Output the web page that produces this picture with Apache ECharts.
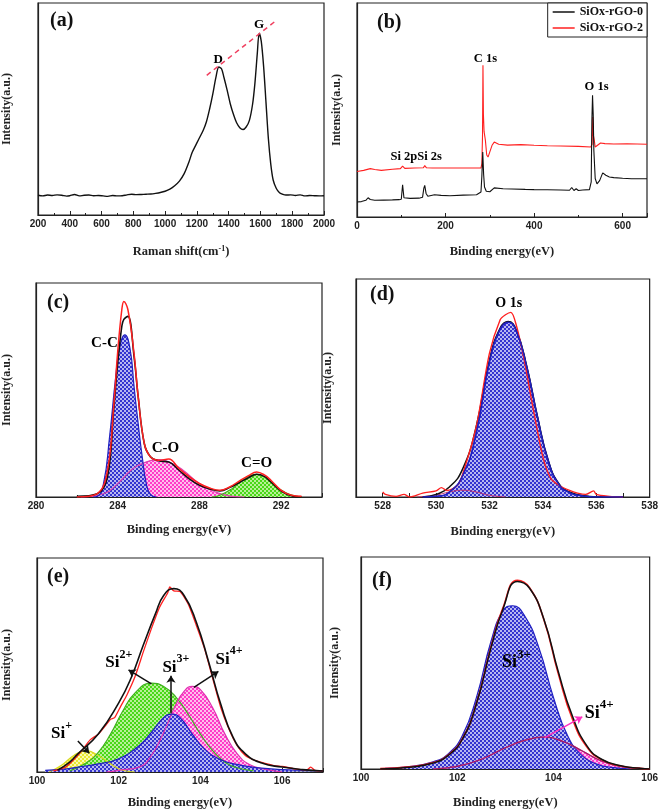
<!DOCTYPE html>
<html><head><meta charset="utf-8">
<script src="https://cdn.jsdelivr.net/npm/echarts@6/dist/echarts.min.js"></script>
<style>html,body{margin:0;padding:0;background:#fff}#c{width:661px;height:810px}</style>
</head><body><div id="c"></div>
<script>
// ---------- DATA ----------
// (a) Raman
const ramanX = [200,230,260,290,320,350,380,400,430,460,490,520,550,580,610,640,670,700,730,760,790,820,850,880,910,940,970,1000,1030,1060,1090,1120,1150,1170,1190,1210,1240,1260,1280,1300,1320,1338,1355,1370,1390,1410,1430,1450,1470,1490,1510,1530,1550,1565,1580,1592,1605,1620,1635,1650,1665,1680,1700,1720,1740,1760,1790,1820,1850,1880,1910,1940,1970,2000];
const ramanY = [9.3,9.0,9.4,9.2,9.5,9.3,8.9,9.1,9.7,9.0,9.3,9.4,9.1,9.2,9.0,8.8,9.2,9.0,9.1,9.5,9.8,9.6,9.7,9.8,9.9,10.2,10.6,11.2,12.2,13.8,16.0,19.5,25,29.5,32.5,35.5,40,44,50,57,65,69.8,69,65,59,52.5,47.5,43.5,41.2,40.3,41.5,44.5,52,62,76,85.8,82,70,53,36,24,16.5,12.5,10.5,9.8,9.4,9.5,9.2,9.5,9.0,9.2,9.1,9.0,9.1];
const ramanDG = [[1262,65.9],[1690,91.2]];

// (b) survey
const surveyX0 = [0,10,20,25,30,40,60,80,95,100,103,106,110,120,140,148,151,153,156,160,175,190,210,240,270,280,282,284,286,288,292,296,300,310,330,350,380,400,430,460,480,485,487,490,492,495,497,500,510,525,529,530.5,532,533.5,535,538,542,548,555,562,570,580,600,620,655];
const surveyY0 = [7,7.2,7.8,9,8.2,7.8,7.9,8.0,8.1,8.3,15.1,9.0,8.6,8.7,8.8,9.2,13.5,14.8,11,9.7,10.4,10.1,9.9,10.2,10.4,11.7,19,30.4,20,14,12,11.2,11.8,13.6,13.2,13.1,12.9,12.8,12.7,12.6,12.5,13.8,14,12.4,12.6,13.2,13.6,12.4,12.6,12.8,16.4,45,56.9,48,31,18,15.5,17,20.6,19.5,18.7,18.4,18.1,17.9,17.9];
const surveyX2 = [0,15,30,40,55,80,98,103,108,130,150,153,157,170,200,250,280,282,283.5,284.5,285.5,287,290,293,296,300,305,310,320,340,370,400,430,460,500,528,530,531,532.5,534,536,538,542,550,560,580,610,655];
const surveyY2 = [21.3,21.8,22.6,22.2,21.8,22.3,22.6,23.8,22.7,22.9,23.0,24.0,23.0,22.9,22.9,22.9,22.9,25,38,70.9,48,40,35.8,29,28,30.4,33.5,35,34,33.6,33.8,33.5,33.3,33.2,33,32.7,33,34,46.7,38,35.8,32.7,33,34.6,34.3,34.1,34.2,34];

// (c) C 1s
const c1sX = [282,283,283.5,283.8,284,284.2,284.3,284.5,284.8,285,285.3,285.6,286,286.5,287,287.5,288,288.5,289,289.5,290,290.4,290.8,291.2,291.5,292,292.5,293];
const c1sRaw = [0,1.6,12.5,42,68,87.5,91.4,87.5,67,47,25,18.8,17.2,17.7,13.3,9.5,6.3,4.2,3.1,4.8,7.8,10,11.7,10.2,7.8,3.1,0.8,0.3];
const c1sFit = [0.3,1.5,9.4,40.6,62.5,79.7,83,84.4,65.6,47,25,18.8,16.9,16.4,12.5,8.5,5.5,3.8,2.8,4.5,7,9,10.6,9.5,7,2.8,0.6,0];
const ccX = [282.8,283,283.3,283.6,283.9,284.1,284.35,284.6,284.8,285,285.2,285.4,285.6,285.9];
const ccY = [0,0.3,6,28,56,70,75.8,69.5,51.6,34.4,18.75,6.25,1.25,0];
const coX = [282.2,283.3,284,284.65,285.3,286,286.6,287.2,288,288.8,289.6,290.2];
const coY = [0,1.5,6.25,12.5,16,17.5,16,12.5,6.25,2.3,0.3,0];
const cdoX = [288.6,289,289.6,290.1,290.8,291.4,291.9,292.4,293];
const cdoY = [0,0.8,3.9,7.8,10.6,7.8,3.9,1.25,0];

// (d) O 1s
const o1sRawX = [528,528.1,528.5,528.8,529,529.5,530,530.2,530.4,530.8,531,531.5,532,532.4,532.6,532.8,533,533.3,533.6,534,534.3,534.6,535,535.3,535.6,535.9,536,536.5,537];
const o1sRawY = [2.3,1.2,0.3,1.2,0,1.8,2.8,4.3,3,5.4,10.7,32,66,81.3,83.6,84.7,79,62.9,43,18.4,8.4,5.4,3,1.8,1.2,2.8,1.2,0.3,0];
const o1sFitX = [529.5,530,530.5,531,531.5,532,532.4,532.7,533,533.4,533.8,534.2,534.6,535,535.5,536,537];
const o1sFitY = [0,1.2,4.6,13,32.2,62.9,77.5,80.5,76.7,59.8,36.8,16.9,6.1,2.3,0.6,0,0];
const o1sMainY = [0,0.3,2.3,10,29,62,77,80.2,76.4,59.5,36.5,16.6,5.8,2,0.5,0,0];
const o1sMinorX = [529.3,530,530.5,531,531.5,532,532.6];
const o1sMinorY = [0,0.9,2.3,3.1,2.3,0.8,0];

// (e) Si 2p, SiOx-rGO-0
const siERawX = [100.4,100.7,100.9,101.1,101.3,101.5,101.7,101.8,101.9,102.05,102.2,102.4,102.6,102.8,103.0,103.2,103.25,103.35,103.5,103.7,103.9,104.1,104.3,104.5,104.7,104.9,105.1,105.3,105.5,105.8,106,106.3,106.6,106.7,106.8,107];
const siERawY = [0.5,2.3,5.7,10,15,17.7,22.3,24.6,25.4,30.8,36,44.6,56,67,77,83.8,86.5,84.6,84.3,78.5,68.5,57.7,43.8,30,20,12.3,7.7,5.7,4.5,3,2.6,1.5,1,2.3,0.8,0.5];
const siEFitX = [100.5,100.8,101,101.5,102,102.3,102.6,102.9,103.1,103.35,103.6,103.9,104.2,104.5,104.8,105.1,105.5,106,106.5,107];
const siEFitY = [0.8,4.6,8.5,17.7,32.3,43.8,59.2,74,82.5,85.7,82.5,70,51.5,31.5,16.2,8.5,4.2,2.3,1.1,0.5];
const si1X = [100.3,100.6,100.9,101.2,101.5,101.8,102.1,102.4];
const si1Y = [0,3.1,7.7,10,7.7,3.8,0.8,0];
const si2X = [100.8,101.2,101.5,101.8,102.1,102.4,102.8,103.1,103.4,103.7,104.0,104.3,104.6,104.9,105.3];
const si2Y = [0.5,4.2,9.2,17.7,28.5,37,41.5,40,35,27,17.7,10,4.6,2,0.5];
const si3X = [100.2,100.6,101,101.5,102,102.5,102.8,103.1,103.3,103.5,103.8,104.1,104.5,105,105.5,106,107];
const si3Y = [0.8,1.2,2.3,3.8,6.2,12.3,18.5,25.4,27,25.4,17.7,10.8,5.7,3.1,1.8,1.1,0.5];
const si4X = [101.7,102,102.5,102.8,103.1,103.4,103.6,103.8,104.0,104.3,104.6,104.9,105.2,105.6,106];
const si4Y = [0,0.8,2.3,7.7,18.5,31.5,37.7,40,38.5,30,17.7,8.5,3.5,1.2,0];

// (f) Si 2p, SiOx-rGO-2
const siFX = [100.4,101,101.5,101.8,102.1,102.4,102.7,102.95,103.25,103.5,103.8,104.1,104.4,104.7,105,105.4,105.8,106];
const siFFit = [0,0.8,2.8,6.2,13.8,30.8,57,75.4,88.5,85.4,70.8,46,24.6,10.8,4.6,1.5,0.3,0];
const siFRaw = [0.2,1,3,6.4,14,31,57.5,76,89,85.6,70.5,45,23.2,10.2,4.4,1.4,0.3,0];
const siF3X = [100.5,101,101.5,101.8,102.1,102.4,102.7,102.95,103.15,103.4,103.7,104.0,104.3,104.6,104.9,105.2,105.6];
const siF3Y = [0.3,1.1,3.4,6.9,15.4,33.8,60,74.6,77,72.3,57,33.8,15.4,6.2,2.3,0.8,0];
const siF4X = [101.5,102,102.5,103,103.4,103.8,104.2,104.6,105,105.4,105.8];
const siF4Y = [0,1.2,4.6,10,13.5,15,13,8.5,3.8,1.2,0.3];

// tick labels / texts
const legendNames = ['SiOx-rGO-0','SiOx-rGO-2'];
const panelLabels = ['(a)','(b)','(c)','(d)','(e)','(f)'];
const xNames = ['Raman shift(cm{s|-1}{n|)}','Binding energy(eV)','Binding energy(eV)','Binding energy(eV)','Binding energy(eV)','Binding energy(eV)'];
const yName = 'Intensity(a.u.)';

// ---------- BUILD ----------
const zip = (xs, ys) => xs.map((x, i) => [x, ys[i]]);
function pattern(c1, c2) {
  const cv = document.createElement('canvas');
  cv.width = 4; cv.height = 4;
  const g = cv.getContext('2d');
  g.fillStyle = c2; g.fillRect(0, 0, 4, 4);
  g.fillStyle = c1; g.fillRect(0, 0, 2, 2); g.fillRect(2, 2, 2, 2);
  return { image: cv, repeat: 'repeat' };
}
const blueP = pattern('#3434d0', '#b8b8f0');
const pinkP = pattern('#ff3cc8', '#ffc0ec');
const greenP = pattern('#48d818', '#b8f098');
const yellowP = pattern('#e8e830', '#fafab0');

const serif = 'Liberation Serif, Times New Roman, serif';
const sans = 'Liberation Sans, Arial, sans-serif';

const grids = [
  { left: 33, top: 3, width: 291, height: 212 },
  { left: 357, top: 3, width: 290, height: 214 },
  { left: 31, top: 283, width: 291, height: 214 },
  { left: 356, top: 279, width: 296, height: 218 },
  { left: 32, top: 558, width: 291, height: 217 },
  { left: 361, top: 557, width: 291, height: 216 }
].map(g => Object.assign({ show: true, borderColor: '#222', borderWidth: 1.2, backgroundColor: '#fff' }, g));

const xCfg = [
  { min: 200, max: 2000, interval: 200, gap: 30, split: 2 },
  { min: 0, max: 655, interval: 200, gap: 28, split: 2, hideMax: true },
  { min: 280, max: 294, interval: 4, gap: 26, split: 2, hideMax: true },
  { min: 527, max: 538, interval: 1, gap: 28, split: 1, odd: true },
  { min: 100, max: 107, interval: 2, gap: 24, split: 2, hideMax: true },
  { min: 100, max: 106, interval: 2, gap: 27, split: 2 }
];
const yGaps = [25, 14, 23, 22, 24, 20];

const xAxis = xCfg.map((c, i) => ({
  type: 'value', gridIndex: i, min: c.min, max: c.max, interval: c.interval,
  name: xNames[i], nameLocation: 'middle', nameGap: c.gap,
  nameTextStyle: { fontFamily: serif, fontWeight: 'bold', fontSize: 12.5, color: '#222',
    rich: { s: { fontFamily: serif, fontWeight: 'bold', fontSize: 8, verticalAlign: 'top', padding: [0, 0, 6, 0], color: '#222' },
            n: { fontFamily: serif, fontWeight: 'bold', fontSize: 12.5, color: '#222' } } },
  axisLine: { show: true, onZero: false, lineStyle: { color: '#222', width: 1.2 } },
  axisTick: { show: true, inside: true, length: 4, lineStyle: { color: '#222' } },
  minorTick: { show: c.split > 1, splitNumber: c.split, length: 2, lineStyle: { color: '#222' } },
  splitLine: { show: false },
  axisLabel: { margin: 4, fontFamily: sans, fontWeight: 'bold', fontSize: 10, color: '#222',
    showMaxLabel: !c.hideMax,
    formatter: c.odd ? (v => (v % 2 === 0 ? String(v) : '')) : (v => String(v)) }
}));
const yAxis = grids.map((g, i) => ({
  type: 'value', gridIndex: i, min: 0, max: 100,
  name: yName, nameLocation: 'middle', nameGap: yGaps[i], nameRotate: 90,
  nameTextStyle: { fontFamily: serif, fontWeight: 'bold', fontSize: 12, color: '#222' },
  axisLine: { show: true, lineStyle: { color: '#222', width: 1.2 } },
  axisTick: { show: false }, axisLabel: { show: false }, splitLine: { show: false }
}));

function line(i, data, color, width, opt) {
  return Object.assign({ type: 'line', xAxisIndex: i, yAxisIndex: i, data: data, showSymbol: false,
    symbol: 'none', lineStyle: { color: color, width: width }, itemStyle: { color: color },
    silent: true, animation: false }, opt || {});
}
function area(i, data, color, fill, opt) {
  return line(i, data, color, 1.2, Object.assign({ smooth: 0.5, areaStyle: { color: fill, opacity: 1, origin: 'start' } }, opt || {}));
}
function richSup(base, sup) {
  return {
    b: { fontFamily: serif, fontWeight: 'bold', fontSize: base, color: '#000', lineHeight: base + 6, verticalAlign: 'bottom', textBorderWidth: 0 },
    s: { fontFamily: serif, fontWeight: 'bold', fontSize: sup, color: '#000', lineHeight: base + 6, verticalAlign: 'top', textBorderWidth: 0 }
  };
}
function texts(i, items, size, sup) {
  return { type: 'scatter', xAxisIndex: i, yAxisIndex: i, symbolSize: 0, silent: true, animation: false, z: 10,
    itemStyle: { opacity: 1, color: '#000' },
    data: items.map(t => ({ value: [t[0], t[1]], name: t[2] })),
    label: { show: true, position: 'inside', formatter: p => p.name, textBorderWidth: 0, opacity: 1,
      fontFamily: serif, fontWeight: 'bold', fontSize: size, color: '#000', rich: richSup(size, sup || Math.round(size * 0.7)) } };
}
function arrows(i, segs, color) {
  return { type: 'line', xAxisIndex: i, yAxisIndex: i, data: [], silent: true, animation: false, z: 9,
    markLine: { silent: true, animation: false, symbol: ['none', 'arrow'], symbolSize: 7,
      lineStyle: { color: color, width: 1.5, type: 'solid' }, label: { show: false },
      data: segs.map(s => [{ coord: s[0] }, { coord: s[1] }]) } };
}

const series = [
  // (a)
  line(0, zip(ramanX, ramanY), '#111', 1.4, { smooth: 0.3 }),
  { type: 'line', xAxisIndex: 0, yAxisIndex: 0, data: [], silent: true, animation: false,
    markLine: { silent: true, symbol: ['none', 'none'], label: { show: false },
      lineStyle: { color: '#f04060', width: 1.5, type: [5, 4] },
      data: [[{ coord: ramanDG[0] }, { coord: ramanDG[1] }]] } },
  texts(0, [[1334, 73.3, 'D'], [1592, 90, 'G']], 13),
  // (b)
  line(1, zip(surveyX2, surveyY2), '#ff2020', 1.1, { name: legendNames[1] }),
  line(1, zip(surveyX0, surveyY0), '#111', 1.1, { name: legendNames[0] }),
  texts(1, [[106, 28.3, 'Si 2p'], [164, 28.3, 'Si 2s'], [290, 74, 'C 1s'], [541, 60.7, 'O 1s']], 12.5),
  // (c)
  area(2, zip(coX, coY), '#e040b0', pinkP),
  area(2, zip(cdoX, cdoY), '#40b020', greenP),
  area(2, zip(ccX, ccY), '#2020c0', blueP),
  line(2, zip(c1sX, c1sFit), '#111', 1.6, { smooth: 0.4 }),
  line(2, zip(c1sX, c1sRaw), '#ff2020', 1.5, { smooth: 0.4 }),
  texts(2, [[283.35, 71.9, 'C-C'], [286.34, 22.7, 'C-O'], [290.8, 15.9, 'C=O']], 15),
  // (d)
  area(3, zip(o1sFitX, o1sMainY), '#2020c0', blueP),
  line(3, zip(o1sMinorX, o1sMinorY), '#c03070', 1, { smooth: 0.5 }),
  line(3, zip(o1sFitX, o1sFitY), '#111', 1.5, { smooth: 0.5 }),
  line(3, zip(o1sRawX, o1sRawY), '#ff2020', 1.4, { smooth: 0.3 }),
  line(3, zip(o1sFitX, o1sMainY), '#2020c0', 1.5, { smooth: 0.5 }),
  texts(3, [[532.72, 89, 'O 1s']], 14),
  // (e)
  area(4, zip(si1X, si1Y), '#d8d820', yellowP),
  area(4, zip(si2X, si2Y), '#40b020', greenP),
  area(4, zip(si4X, si4Y), '#e030b0', pinkP),
  area(4, zip(si3X, si3Y), '#2020c0', blueP),
  line(4, zip(siERawX, siERawY), '#ff2020', 1.3, { smooth: 0.2 }),
  line(4, zip(siEFitX, siEFitY), '#111', 1.6, { smooth: 0.5 }),
  arrows(4, [[[101.0, 14.5], [101.28, 8.8]], [[102.8, 41.2], [102.24, 47.7]], [[103.28, 27.5], [103.28, 45]], [[103.84, 39.5], [104.44, 47]]], '#111'),
  texts(4, [[100.6, 19.2, '{b|Si}{s|+}'], [102.0, 52.3, '{b|Si}{s|2+}'], [103.4, 50.3, '{b|Si}{s|3+}'], [104.7, 53.8, '{b|Si}{s|4+}']], 17, 12),
  // (f)
  area(5, zip(siF4X, siF4Y), '#e030b0', pinkP),
  area(5, zip(siF3X, siF3Y), '#2020c0', blueP),
  line(5, zip(siF4X, siF4Y), '#a02060', 1.2, { smooth: 0.5 }),
  line(5, zip(siFX, siFRaw), '#ff2020', 1.6, { smooth: 0.5 }),
  line(5, zip(siFX, siFFit), '#111', 1.5, { smooth: 0.5 }),
  arrows(5, [[[103.82, 14.8], [104.6, 24.6]]], '#ff30c0'),
  texts(5, [[103.23, 51.5, '{b|Si}{s|3+}'], [104.95, 27.7, '{b|Si}{s|4+}']], 18, 13)
];

const labelPos = [[45, 6], [372, 8], [42, 288], [365, 280], [42, 562], [367, 566]];
const title = panelLabels.map((t, i) => ({ text: t, left: labelPos[i][0], top: labelPos[i][1],
  textStyle: { fontFamily: serif, fontWeight: 'bold', fontSize: 20, color: '#111' } }));

const chart = echarts.init(document.getElementById('c'), null, { renderer: 'canvas' });
chart.setOption({
  animation: false, backgroundColor: '#fff',
  title: title, grid: grids, xAxis: xAxis, yAxis: yAxis, series: series,
  legend: { data: legendNames, orient: 'vertical', right: 14, top: 3, itemGap: 4,
    backgroundColor: '#fff', borderColor: '#222', borderWidth: 1, padding: [3, 4, 3, 5],
    icon: 'rect', itemWidth: 22, itemHeight: 1.5,
    textStyle: { fontFamily: serif, fontWeight: 'bold', fontSize: 12, color: '#111' } }
});
</script></body></html>
